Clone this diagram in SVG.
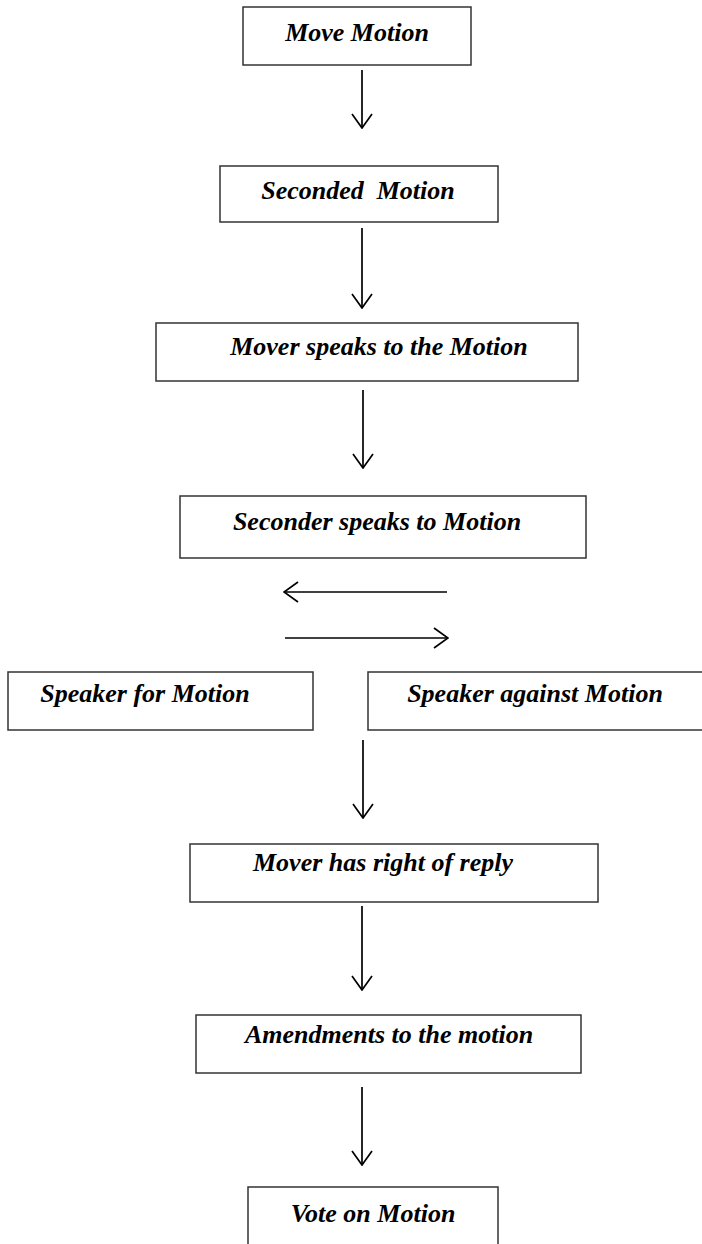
<svg xmlns="http://www.w3.org/2000/svg" width="702" height="1244" viewBox="0 0 702 1244">
<style>
.box{fill:#fff;stroke:#333;stroke-width:1.5}
.lbl{font-family:"Liberation Serif","Times New Roman",serif;font-weight:bold;font-style:italic;font-size:26px;fill:#000;text-anchor:middle;white-space:pre}
.con{fill:none;stroke:#000;stroke-width:1.7}
</style>
<defs>
<marker id="ah" viewBox="0 0 16 22" refX="15" refY="11" markerWidth="16" markerHeight="22" markerUnits="userSpaceOnUse" orient="auto">
<path d="M1,1 L15,11 L1,21" fill="none" stroke="#000" stroke-width="1.7"/>
</marker>
</defs>
<rect width="702" height="1244" fill="#fff"/>
<g id="connectors">
<line class="con" x1="362" y1="70" x2="362" y2="128" marker-end="url(#ah)"/>
<line class="con" x1="362" y1="228" x2="362" y2="308" marker-end="url(#ah)"/>
<line class="con" x1="363" y1="390" x2="363" y2="468" marker-end="url(#ah)"/>
<line class="con" x1="447" y1="592" x2="284" y2="592" marker-end="url(#ah)"/>
<line class="con" x1="285" y1="638" x2="448" y2="638" marker-end="url(#ah)"/>
<line class="con" x1="363" y1="740" x2="363" y2="818" marker-end="url(#ah)"/>
<line class="con" x1="362" y1="906" x2="362" y2="990" marker-end="url(#ah)"/>
<line class="con" x1="362" y1="1087" x2="362" y2="1165" marker-end="url(#ah)"/>
</g>
<g id="n1"><rect class="box" x="243" y="7" width="228" height="58"/><text class="lbl" x="357" y="41">Move Motion</text></g>
<g id="n2"><rect class="box" x="220" y="166" width="278" height="56"/><text class="lbl" x="358" y="199" xml:space="preserve">Seconded  Motion</text></g>
<g id="n3"><rect class="box" x="156" y="323" width="422" height="58"/><text class="lbl" x="379" y="355">Mover speaks to the Motion</text></g>
<g id="n4"><rect class="box" x="180" y="496" width="406" height="62"/><text class="lbl" x="377" y="530">Seconder speaks to Motion</text></g>
<g id="n5"><rect class="box" x="8" y="672" width="305" height="58"/><text class="lbl" x="145" y="702">Speaker for Motion</text></g>
<g id="n6"><rect class="box" x="368" y="672" width="340" height="58"/><text class="lbl" x="535" y="702">Speaker against Motion</text></g>
<g id="n7"><rect class="box" x="190" y="844" width="408" height="58"/><text class="lbl" x="383" y="871">Mover has right of reply</text></g>
<g id="n8"><rect class="box" x="196" y="1015" width="385" height="58"/><text class="lbl" x="389" y="1043">Amendments to the motion</text></g>
<g id="n9"><rect class="box" x="248" y="1187" width="250" height="70"/><text class="lbl" x="373" y="1222">Vote on Motion</text></g>
</svg>
